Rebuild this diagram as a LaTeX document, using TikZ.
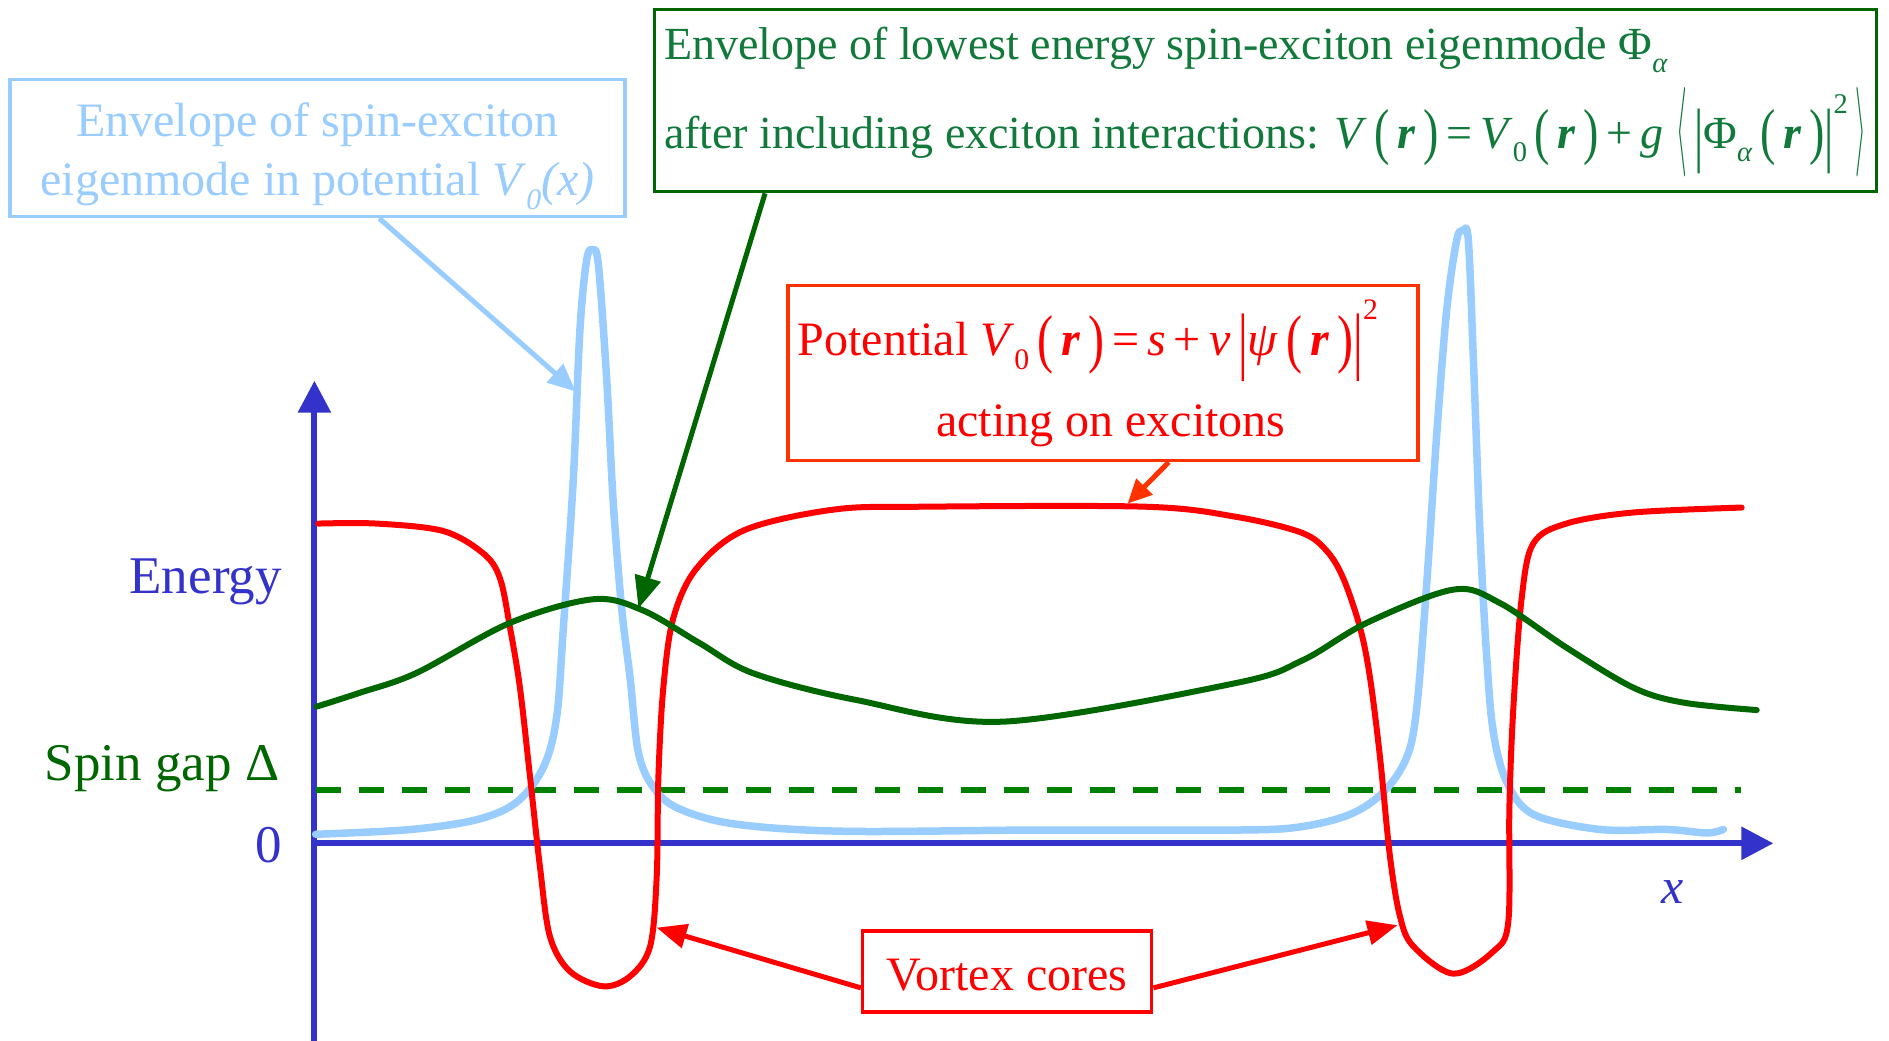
\documentclass[tikz,border=0pt]{standalone}
\usepackage{fontspec}
\setmainfont{Liberation Serif}
\usepackage{graphicx}
\usetikzlibrary{arrows.meta,calc}
\definecolor{axisblue}{HTML}{3333CC}
\definecolor{lblue}{HTML}{99CCFF}
\definecolor{dgreen}{HTML}{006600}
\definecolor{gtext}{HTML}{117A3A}
\definecolor{dashgreen}{HTML}{008000}
\definecolor{ored}{HTML}{FF3300}
\definecolor{pred}{HTML}{FF0000}
\newcommand\lpar{\raisebox{-0.1em}{\scalebox{1}[1.35]{(}}}
\newcommand\rpar{\raisebox{-0.1em}{\scalebox{1}[1.35]{)}}}
\newcommand\vbar{\raisebox{-0.22em}{\scalebox{1}[1.55]{|}}}
\newcommand\bfr{\textbf{\textit{r}}}
\newcommand\lowsub[1]{\raisebox{-0.3em}{\scalebox{0.62}{#1}}}
\newcommand\hisup[1]{\raisebox{0.75em}{\scalebox{0.62}{#1}}}
\newcommand\biglang{\raisebox{-0.14em}{\scalebox{1.1}[3.6]{$\langle$}}}
\newcommand\bigrang{\raisebox{-0.14em}{\scalebox{1.1}[3.6]{$\rangle$}}}
\begin{document}
\begin{tikzpicture}[x=1.2047pt,y=-1.2047pt,
  curve/.style={line width=6pt,smooth,tension=0.55,line join=round,line cap=round},
  axisline/.style={line width=6pt,axisblue,-{Triangle[length=32pt,width=32pt]}},
  box/.style={draw,line width=3.5pt,fill=white,inner sep=0pt},
  txt/.style={font=\fontsize{48}{58}\selectfont,inner sep=0pt},
  gtxt/.style={font=\fontsize{46}{56}\selectfont,inner sep=0pt,text=gtext},
  lbl/.style={font=\fontsize{53}{62}\selectfont,inner sep=0pt,anchor=base east}]
\useasboundingbox (0,0) rectangle (1568,864);

% axes
\draw[axisline] (261,864) -- (261,316);
\draw[axisline] (258.5,700) -- (1472,700);

% dashed spin gap
\draw[dashgreen,line width=6pt,dash pattern=on 25pt off 18pt] (262,656) -- (1445,656);

% light blue envelope
\draw[curve,lblue,line width=7.5pt] plot coordinates {
(262,692.5) (340,688.6) (395.7,680.4) (428.9,665.8) (451,637) (462,595.7) (467.6,521.3)
(475.9,397.4) (481.4,273.5) (487,215.7) (492,207.4) (496.7,219.8) (503.6,314.8) (509.1,418)
(516,504.7) (523,562.6) (529.9,624.6) (542.3,653.5) (563,671) (610,684) (700,690)
(859,689) (1026,689) (1079,686.4) (1120.6,676) (1148.3,657.5) (1167.7,628.6) (1176,587.3)
(1184.3,484) (1192.6,360.2) (1200.9,257) (1209.2,199.1) (1214.2,191.7) (1218.8,199.1)
(1223,298.2) (1228.5,442.8) (1234.1,546) (1239.6,608) (1250.7,649.2) (1272.8,676)
(1328.1,688.5) (1383.5,688.5) (1416.7,691.4) (1430.5,688.5)};

% red potential
\draw[curve,pred] plot coordinates {
(264,434.6) (312.7,434.6) (368,440.8) (401.2,459.4) (415,480) (423.4,521.3) (431.6,570.9)
(440,645.2) (448.2,719.5) (456.5,777.4) (473.1,806.3) (500.8,818.7) (523,810.4) (539.6,785.6)
(545.1,727.8) (546.5,645.2) (550.6,570.9) (558.9,513) (578.3,471.7) (618,440) (692,423)
(766,420.6) (951,420.6) (1026,429) (1080,442) (1101,457) (1115,480) (1129,521.3)
(1137.2,562.6) (1145.5,628.6) (1153.8,711.2) (1162.1,760.8) (1173.2,785.5) (1206.4,808.2)
(1239.6,789.7) (1252,765) (1252.9,670) (1256.2,587.3) (1263.1,496.4) (1272.8,451)
(1300.5,434.5) (1355.8,425.4) (1445.7,421.3)};

% green eigenmode
\draw[curve,dgreen] plot coordinates {
(262.9,586.5) (298.8,575) (345.9,558.5) (423.4,517) (492.5,497.4) (534,506.8) (581,534)
(625.6,559) (710.6,581) (833,599) (1025.8,567) (1081.4,548) (1134.5,517) (1206.4,489.4)
(1245.1,500.6) (1300.5,537.7) (1355.8,570.8) (1397.3,583.2) (1458.2,589.4)};

% axis labels
\node[lbl,text=axisblue] (energy) at (234,493) {Energy};
\node[lbl,text=dgreen] (gap) at (232,648) {Spin gap Δ};
\node[lbl,text=axisblue] (zero) at (234,716) {0};
\node[font=\fontsize{50}{60}\selectfont\itshape,inner sep=0pt,anchor=base,text=axisblue] (xlab) at (1388,750) {x};

% light blue box
\node[box,draw=lblue,minimum width=615pt,minimum height=137pt] (lb) at (263.5,123) {};
\node[txt,text=lblue,anchor=base] (lb1) at (263.5,113) {Envelope of spin-exciton};
\node[txt,text=lblue,anchor=base] (lb2) at (263.5,162) {eigenmode in potential \textit{V}\lowsub{\textit{0}}\textit{(x)}};
\coordinate (lbtip) at (478,325);
\draw[lblue,line width=5pt,-{Triangle[length=28pt,width=24pt]}]
  ($(lb.south west)!0.6!(lb.south east)$) -- (lbtip);

% green box
\node[box,draw=dgreen,minimum width=1222pt,minimum height=182pt] (gb) at (1050.5,83.5) {};
\node[gtxt,anchor=base west] (g1) at (551,49) {Envelope of lowest energy spin-exciton eigenmode Φ\lowsub{\textit{α}}};
\node[gtxt,anchor=base west] (g2) at (551,123) {after including exciton interactions: \textit{V}\,\lpar\,\bfr\,\rpar\,=\,\textit{V}\lowsub{0}\,\lpar\,\bfr\,\rpar\,+\,\textit{g}\;\biglang\,\vbar Φ\lowsub{\textit{α}}\,\lpar\,\bfr\,\rpar\vbar\hisup{2}\,\bigrang};
\coordinate (gtip) at (530,505);
\draw[dgreen,line width=5pt,-{Triangle[length=32pt,width=26pt]}]
  ($(gb.south west)!0.0916!(gb.south east)$) -- (gtip);

% red box
\node[box,draw=ored,minimum width=630pt,minimum height=175pt] (rb) at (915.5,309.5) {};
\node[txt,text=pred,anchor=base west] (r1) at (662,295) {Potential \textit{V}\lowsub{0}\,\lpar\,\bfr\,\rpar\,=\,\textit{s}\,+\,\textit{v}\,\vbar\textit{ψ}\,\lpar\,\bfr\,\rpar\vbar\hisup{2}};
\node[txt,text=pred,anchor=base] (r2) at (922,362) {acting on excitons};
\coordinate (rtip) at (936,418);
\draw[ored,line width=5pt,-{Triangle[length=24pt,width=22pt]}]
  ($(rb.south west)!0.604!(rb.south east)$) -- (rtip);

% vortex cores box
\node[box,draw=pred,minimum width=289pt,minimum height=81pt] (vc) at (836,806.5) {};
\node[txt,text=pred,anchor=base] (vct) at (836,822) {Vortex cores};
\coordinate (vtipl) at (545,770);
\coordinate (vtipr) at (1160,768);
\draw[pred,line width=5pt,-{Triangle[length=30pt,width=24pt]}] ($(vc.west)+(0,13.5)$) -- (vtipl);
\draw[pred,line width=5pt,-{Triangle[length=30pt,width=24pt]}] ($(vc.east)+(0,13.5)$) -- (vtipr);
\end{tikzpicture}
\end{document}
